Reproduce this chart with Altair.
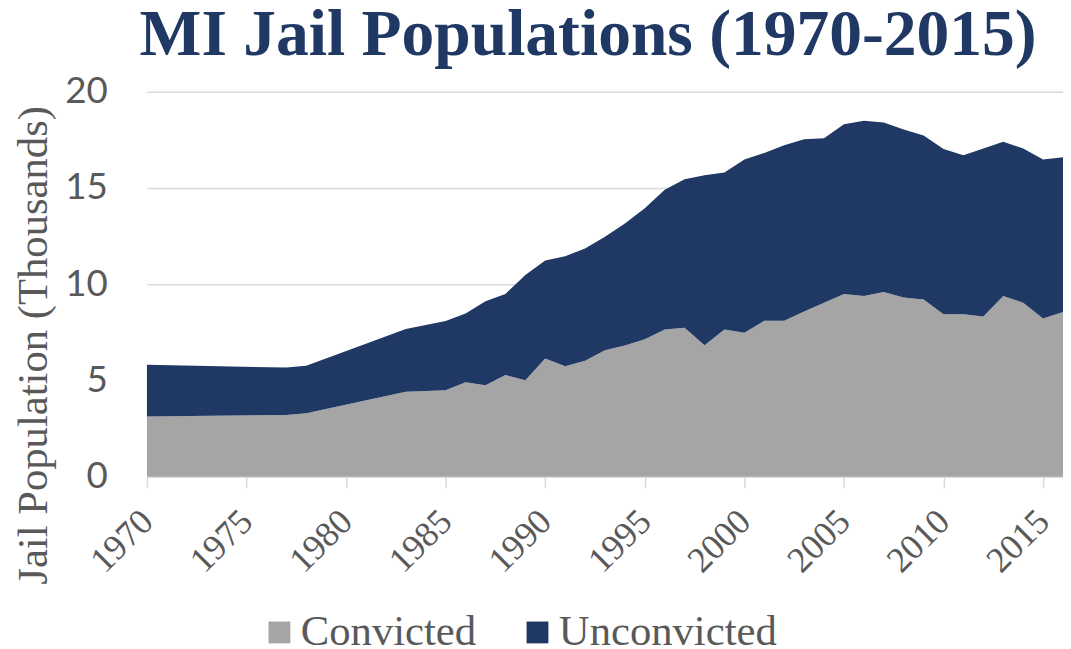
import altair as alt
import pandas as pd

years = [1970, 1977, 1978, 1983, 1985, 1986, 1987, 1988, 1989, 1990, 1991, 1992,
         1993, 1994, 1995, 1996, 1997, 1998, 1999, 2000, 2001, 2002, 2003, 2004,
         2005, 2006, 2007, 2008, 2009, 2010, 2011, 2012, 2013, 2014, 2015, 2016]
convicted = [3.13, 3.22, 3.30, 4.42, 4.50, 4.91, 4.76, 5.29, 5.02, 6.15, 5.74, 6.03,
             6.58, 6.82, 7.15, 7.66, 7.75, 6.84, 7.66, 7.49, 8.11, 8.11, 8.59, 9.04,
             9.50, 9.40, 9.60, 9.31, 9.21, 8.44, 8.44, 8.33, 9.40, 9.04, 8.23, 8.56]
unconvicted = [2.69, 2.46, 2.47, 3.26, 3.59, 3.58, 4.36, 4.21, 5.46, 5.09, 5.72, 5.83,
               5.89, 6.34, 6.80, 7.25, 7.71, 8.83, 8.15, 8.99, 8.71, 9.11, 8.95, 8.55,
               8.82, 9.09, 8.80, 8.73, 8.52, 8.59, 8.26, 8.72, 8.01, 8.02, 8.25, 8.04]
series_names = ["Convicted", "Unconvicted"]
series_colors = ["#A5A5A5", "#203864"]
x_ticks = [1970, 1975, 1980, 1985, 1990, 1995, 2000, 2005, 2010, 2015]
y_ticks = [0, 5, 10, 15, 20]

rows = []
for i, y in enumerate(years):
    rows.append({"year": y, "series": "Convicted", "value": convicted[i], "ord": 0})
    rows.append({"year": y, "series": "Unconvicted", "value": unconvicted[i], "ord": 1})
df = pd.DataFrame(rows)

TXT = "#595959"
SERIF = "Liberation Serif"

chart = alt.Chart(df).mark_area(opacity=1).encode(
    x=alt.X("year:Q",
            scale=alt.Scale(domain=[1970, 2016], nice=False, zero=False),
            axis=alt.Axis(values=x_ticks, format="d", title=None, grid=False,
                          labelAngle=-45, labelAlign="right", labelBaseline="middle",
                          labelFontSize=36, labelColor=TXT,
                          labelPadding=28, labelFlush=False, labelOverlap=False,
                          tickColor="#D9D9D9", tickSize=11, tickWidth=1.5,
                          domainColor="#D9D9D9", domainWidth=1.5)),
    y=alt.Y("value:Q", stack="zero",
            scale=alt.Scale(domain=[0, 20], nice=False),
            axis=alt.Axis(values=y_ticks, title="Jail Population (Thousands)",
                          titleFontSize=43, titleFontWeight="normal",
                          titleColor=TXT, titleAngle=270, titleX=-114, titleY=255,
                          titleAlign="center", titleBaseline="middle",
                          labelFontSize=37, labelColor=TXT,
                          labelPadding=40, ticks=False, domain=False,
                          gridColor="#D9D9D9", gridWidth=1.5)),
    color=alt.Color("series:N",
                    scale=alt.Scale(domain=series_names, range=series_colors),
                    legend=alt.Legend(title=None, orient="none", legendX=112, legendY=523,
                                      direction="horizontal", symbolType="square",
                                      symbolSize=484, symbolStrokeWidth=0, symbolOpacity=1,
                                      labelFont=SERIF, labelFontSize=43, labelColor=TXT,
                                      labelLimit=500, labelOffset=0, columnPadding=40,
                                      padding=0)),
    order=alt.Order("ord:Q"),
).properties(
    width=923, height=388,
    autosize="none",
    padding={"left": 140, "top": 82, "right": 0, "bottom": 171},
    title=alt.Title("MI Jail Populations (1970-2015)", font=SERIF, fontSize=66,
                    fontWeight="bold", color="#203864", anchor="middle", dx=-17,
                    offset=4, limit=1060),
).configure_view(
    stroke=None
).configure_axis(
    labelFont=SERIF, titleFont=SERIF
).configure_axisY(
    labelFont="Lato", titleFont=SERIF
).configure_axisX(
    labelFont=SERIF
)

chart.save("out.html", embed_options={"renderer": "svg", "actions": False})
